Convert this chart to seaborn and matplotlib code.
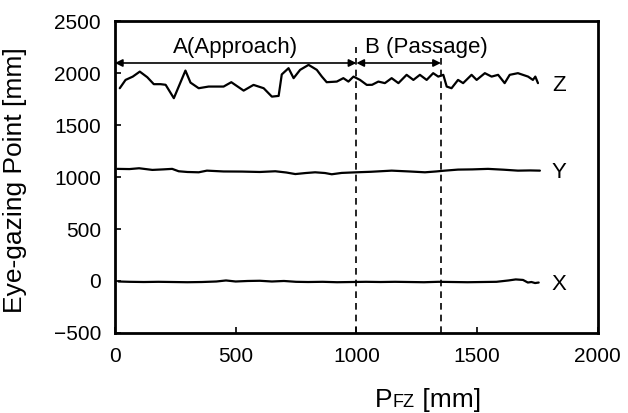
import numpy as np
import pandas as pd
import seaborn as sns
import matplotlib
matplotlib.use("Agg")
import matplotlib.pyplot as plt
from matplotlib.offsetbox import TextArea, HPacker, AnnotationBbox

# eye-gazing point vs. P_FZ
z_pfz = [20, 44, 74, 103, 134, 161, 189, 210, 244, 292, 313, 347, 388, 450, 482, 533,
         574, 616, 650, 678, 691, 719, 740, 767, 802, 836, 857, 877, 919, 946, 967, 988,
         1015, 1043, 1065, 1091, 1118, 1146, 1174, 1208, 1236, 1263, 1291, 1318, 1339,
         1360, 1374, 1394, 1421, 1442, 1477, 1498, 1532, 1560, 1587, 1614, 1635, 1669,
         1711, 1731, 1741, 1752]
z_val = [1857, 1937, 1969, 2017, 1963, 1896, 1896, 1890, 1761, 2027, 1911, 1857, 1873,
         1873, 1915, 1834, 1889, 1857, 1776, 1783, 1990, 2050, 1954, 2034, 2082, 2034,
         1969, 1915, 1921, 1954, 1921, 1969, 1937, 1889, 1890, 1921, 1906, 1954, 1906,
         1986, 1937, 1986, 1937, 2002, 1969, 1986, 1873, 1857, 1937, 1906, 1986, 1937,
         2002, 1969, 1986, 1906, 1986, 2002, 1969, 1937, 1969, 1906]

y_pfz = [10, 60, 100, 155, 200, 237, 264, 300, 347, 381, 450, 526, 600, 664, 710, 747,
         790, 829, 870, 898, 939, 1000, 1060, 1146, 1220, 1284, 1330, 1366, 1421, 1480,
         1545, 1610, 1669, 1720, 1760]
y_val = [1080, 1078, 1086, 1070, 1075, 1080, 1057, 1050, 1047, 1063, 1055, 1054, 1050,
         1057, 1045, 1030, 1040, 1047, 1040, 1028, 1041, 1047, 1052, 1063, 1055, 1047,
         1055, 1063, 1073, 1075, 1080, 1072, 1063, 1065, 1063]

x_pfz = [15, 60, 120, 180, 240, 300, 360, 420, 460, 500, 550, 600, 650, 700, 750, 800,
         860, 920, 980, 1040, 1100, 1160, 1220, 1280, 1340, 1400, 1460, 1520, 1580, 1630,
         1660, 1690, 1710, 1725, 1740, 1755]
x_val = [-5, -8, -10, -8, -10, -12, -10, -5, 5, -5, 0, 2, -5, 0, -8, -10, -8, -12, -10,
         -8, -10, -8, -10, -12, -8, -10, -12, -10, -8, 5, 15, 10, -15, -10, -20, -15]

series = [("Z", z_pfz, z_val), ("Y", y_pfz, y_val), ("X", x_pfz, x_val)]
phase_a = (0, 1000)
phase_b = (1000, 1350)

sns.set_style("ticks")
plt.rcParams["font.family"] = ["Liberation Sans", "DejaVu Sans"]
plt.rcParams["text.color"] = "k"
plt.rcParams["axes.labelcolor"] = "k"
plt.rcParams["xtick.color"] = "k"
plt.rcParams["ytick.color"] = "k"

fig = plt.figure(figsize=(6.28, 4.13), dpi=100)
ax = fig.add_axes([0.183, 0.194, 0.769, 0.754])

for name, px, pv in series:
    df = pd.DataFrame({"pfz": px, "val": pv})
    sns.lineplot(data=df, x="pfz", y="val", ax=ax, color="k", linewidth=1.6, sort=False)
    ax.text(1840, pv[-1] - 20, name, fontsize=16, ha="center", va="center")

# phase borders
for xb in [phase_a[1], phase_b[1]]:
    ax.vlines(xb, -500, 2250, colors="k", linestyles=(0, (4, 3)), linewidth=1.2)

# phase arrows
arrow_y = 2100
for (x0, x1) in [phase_a, phase_b]:
    ax.annotate("", xy=(x1, arrow_y), xytext=(x0, arrow_y),
                arrowprops=dict(arrowstyle="<|-|>", color="k", lw=1.2,
                                shrinkA=0, shrinkB=0, mutation_scale=11))
ax.text(500, 2250, "A(Approach)", fontsize=16, ha="center", va="center")
ax.text(1290, 2250, "B (Passage)", fontsize=16, ha="center", va="center")

ax.set_xlim(0, 2000)
ax.set_ylim(-500, 2500)
ax.set_xticks(np.arange(0, 2001, 500))
ax.set_yticks(np.arange(-500, 2501, 500))
ax.tick_params(direction="in", length=4, width=1.2, labelsize=15, pad=10)
for s in ax.spines.values():
    s.set_linewidth(2)
    s.set_color("k")

ax.set_xlabel("")
ax.set_ylabel("Eye-gazing Point [mm]", fontsize=19)
ax.yaxis.set_label_coords(-0.182, 0.49)

# x label with small-caps FZ
parts = [TextArea("P", textprops=dict(fontsize=19)),
         TextArea("FZ", textprops=dict(fontsize=13)),
         TextArea(" [mm]", textprops=dict(fontsize=19))]
box = HPacker(children=parts, align="baseline", pad=0, sep=0)
ab = AnnotationBbox(box, (0.648, -0.215), xycoords="axes fraction", frameon=False,
                    box_alignment=(0.5, 0.5))
ax.add_artist(ab)

fig.savefig("out.png", dpi=100)
